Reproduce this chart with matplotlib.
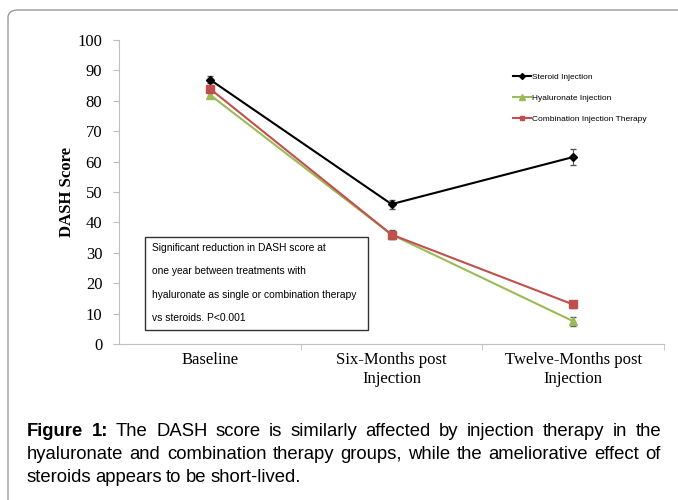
import matplotlib
matplotlib.use("Agg")
import matplotlib.pyplot as plt
from matplotlib.patches import FancyBboxPatch, Rectangle
from matplotlib.lines import Line2D

# data
categories = ["Baseline", "Six-Months post\nInjection", "Twelve-Months post\nInjection"]
steroid = [87, 46, 61.5]
steroid_err = [1.0, 1.5, 2.5]
hyaluronate = [82, 36, 7.5]
hyaluronate_err = [1.0, 1.5, 1.5]
combination = [84, 36, 13]
combination_err = [1.0, 1.0, 1.0]
yticks = list(range(0, 101, 10))

note_lines = ["Significant reduction in DASH score at",
              "one year between treatments with",
              "hyaluronate as single or combination therapy",
              "vs steroids. P<0.001"]
caption_lines = ["Figure 1: The DASH score is similarly affected by injection therapy in the",
                 "hyaluronate and combination therapy groups, while the ameliorative effect of",
                 "steroids appears to be short-lived."]

W, H = 678, 500
fig = plt.figure(figsize=(W/100, H/100), dpi=100)

# rounded frame around the figure
frame = FancyBboxPatch((8/W, -0.1), 1.2, 1 - 10/H + 0.1,
                       boxstyle="round,pad=0,rounding_size=0.015",
                       transform=fig.transFigure, fill=False,
                       edgecolor="#9a9a9a", linewidth=1.0)
fig.patches.append(frame)

ax = fig.add_axes([119/W, 1 - 344/H, (664-119)/W, (344-40)/H])
x = range(len(categories))
ax.errorbar(x, steroid, yerr=steroid_err, color="black", marker="D", markersize=4.5,
            linewidth=1.5, ecolor="#555555", elinewidth=0.8, capsize=2, label="Steroid Injection")
ax.errorbar(x, hyaluronate, yerr=hyaluronate_err, color="#9bbb59", marker="^", markersize=6,
            linewidth=1.5, ecolor="#555555", elinewidth=0.8, capsize=2, label="Hyaluronate Injection")
ax.errorbar(x, combination, yerr=combination_err, color="#c0504d", marker="s", markersize=5.5,
            linewidth=1.5, ecolor="#555555", elinewidth=0.8, capsize=2, label="Combination Injection Therapy")

ax.set_xlim(-0.5, 2.5)
ax.set_ylim(0, 100)
ax.set_yticks(yticks)
ax.set_xticks(list(x))
ax.set_xticklabels(categories, fontfamily="Liberation Serif", fontsize=12)
ax.set_xticks([0.5, 1.5, 2.5], minor=True)
ax.tick_params(axis="x", which="major", length=0, pad=6)
ax.tick_params(axis="x", which="minor", length=4, color="#bfbfbf", direction="out")
ax.tick_params(axis="y", length=4, color="#bfbfbf", direction="out", pad=8)
for lab in ax.get_yticklabels():
    lab.set_fontfamily("Liberation Serif")
    lab.set_fontsize(12)
for s in ["top", "right"]:
    ax.spines[s].set_visible(False)
for s in ["left", "bottom"]:
    ax.spines[s].set_color("#bfbfbf")
ax.set_ylabel("DASH Score", fontfamily="Liberation Serif", fontweight="bold", fontsize=12, labelpad=2)

# legend
handles = [Line2D([], [], color="black", marker="D", markersize=3, linewidth=1.5),
           Line2D([], [], color="#9bbb59", marker="^", markersize=4, linewidth=1.5),
           Line2D([], [], color="#c0504d", marker="s", markersize=3.5, linewidth=1.5)]
labels = ["Steroid Injection", "Hyaluronate Injection", "Combination Injection Therapy"]
fig.legend(handles, labels, loc="upper left", bbox_to_anchor=(505/W, 1 - 66/H),
           frameon=False, prop={"family": "Liberation Sans", "size": 6},
           handlelength=2.2, handletextpad=0.2, labelspacing=1.55)

# note box
fig.patches.append(Rectangle((145/W, 1 - 330/H), (368-145)/W, (330-237)/H,
                             transform=fig.transFigure, fill=True, facecolor="white",
                             edgecolor="#333333", linewidth=1.0, zorder=5))
for i, line in enumerate(note_lines):
    fig.text(152/W, 1 - (248 + i*23.3)/H, line, fontfamily="Liberation Sans", fontsize=7.4,
             va="center", ha="left", zorder=6)

# caption, justified for the first two lines
fig.canvas.draw()
renderer = fig.canvas.get_renderer()
left_px, right_px = 27, 661
cap_y = [436, 459, 482]
for li, line in enumerate(caption_lines):
    words = line.split(" ")
    weights = ["normal"] * len(words)
    if li == 0:
        weights[0] = "bold"
        weights[1] = "bold"
    texts = []
    for w, wt in zip(words, weights):
        t = fig.text(0, 1 - cap_y[li]/H, w, fontfamily="Liberation Sans", fontsize=13.3,
                     fontweight=wt, va="baseline", ha="left")
        texts.append(t)
    widths = [t.get_window_extent(renderer).width for t in texts]
    if li < 2:
        gap = (right_px - left_px - sum(widths)) / (len(words) - 1)
    else:
        gap = 4.0
    xpos = left_px
    for t, wd in zip(texts, widths):
        t.set_x(xpos/W)
        xpos += wd + gap

fig.savefig("out.png", dpi=100)
